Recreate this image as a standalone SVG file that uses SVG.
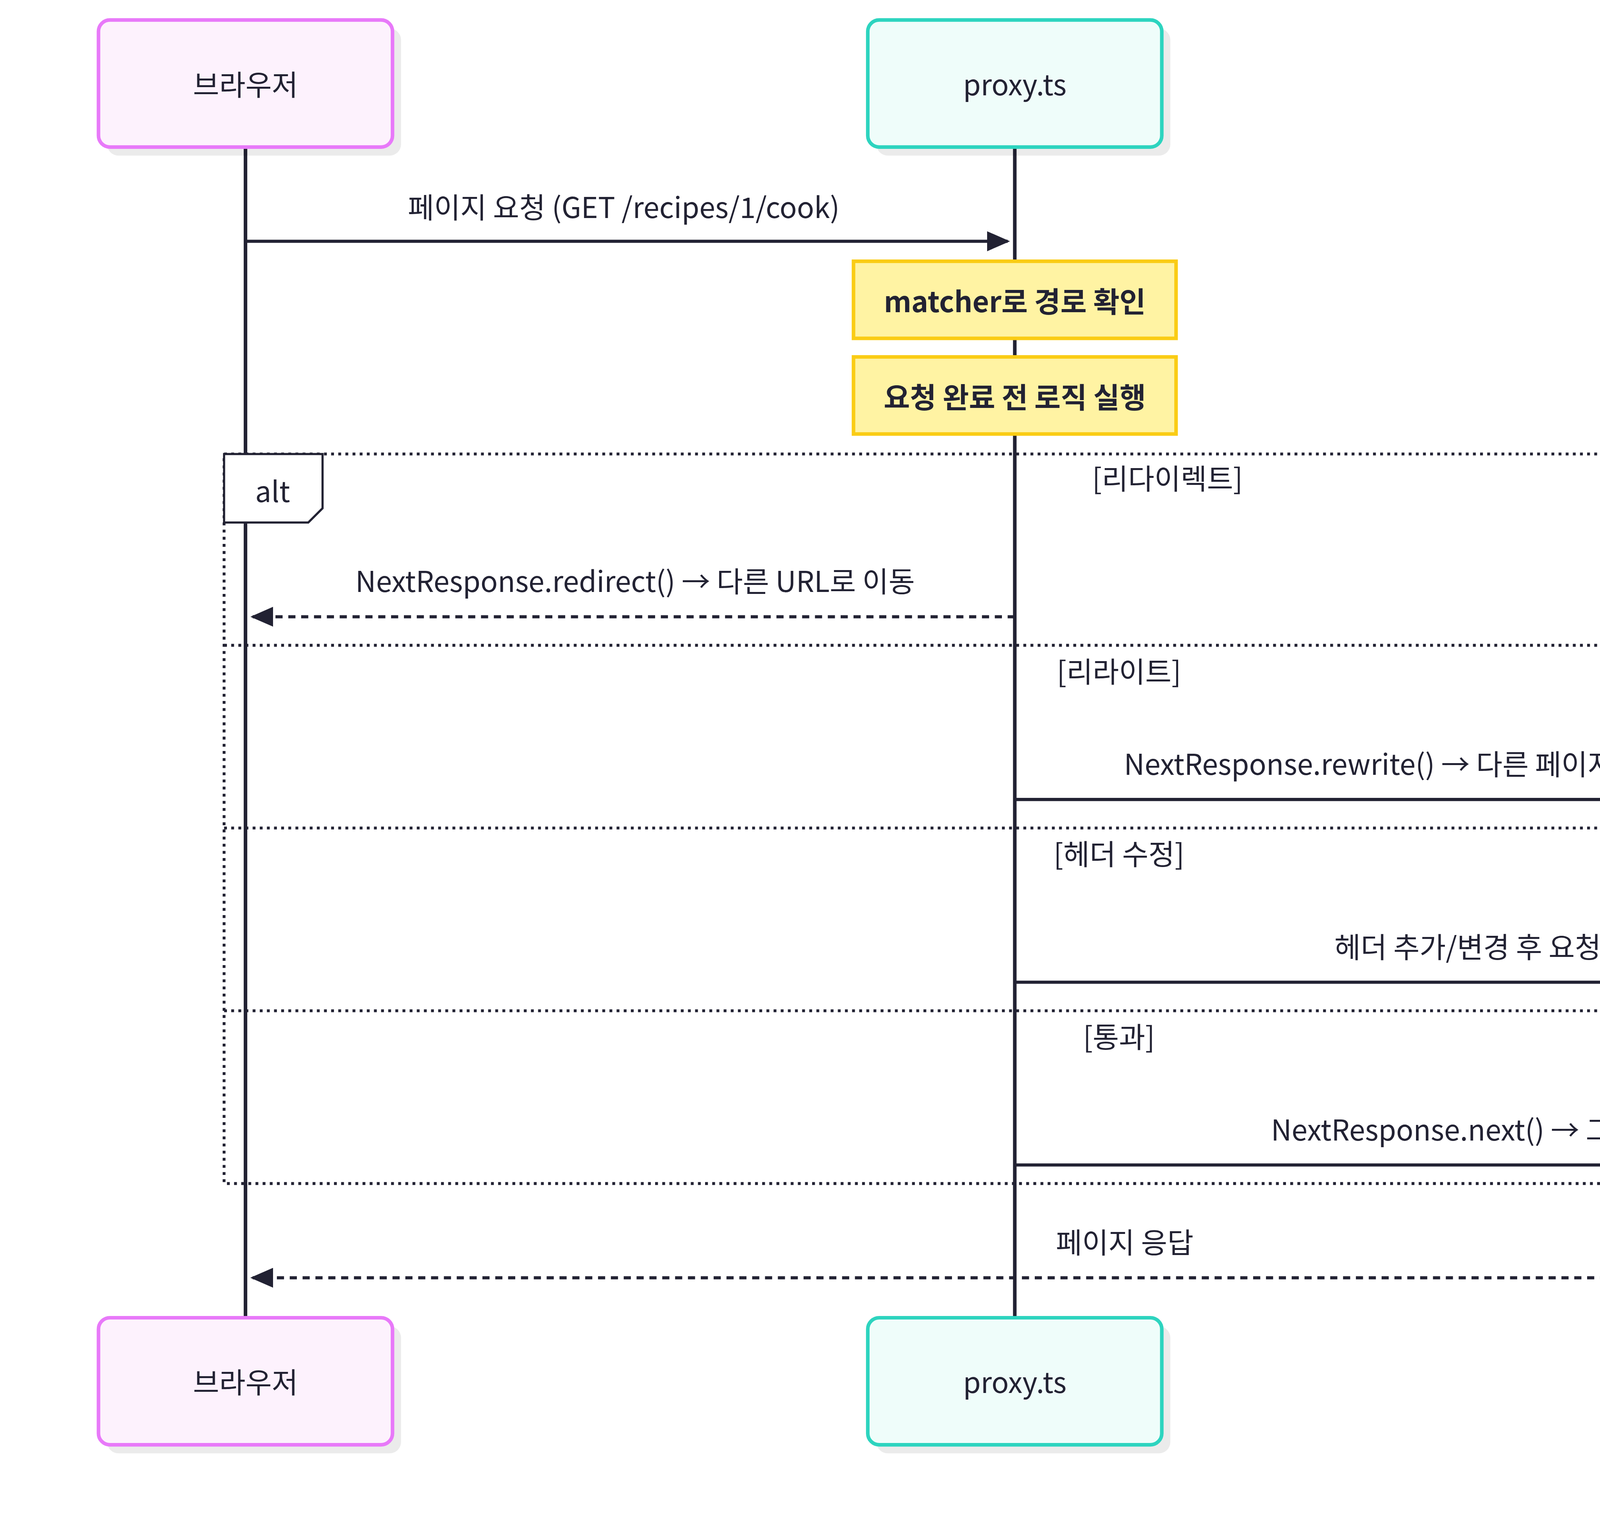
<svg xmlns="http://www.w3.org/2000/svg" width="5700" height="3885" viewBox="0 0 5700 3885">
<style>
text{font-family:"Noto Sans CJK KR","Noto Sans",sans-serif;font-size:20px;fill:#222233;text-anchor:middle;dominant-baseline:central}
.life{stroke:#222233;stroke-width:2.5}
.msg{stroke:#222233;stroke-width:2.2;fill:none}
.dash{stroke-dasharray:5 4}
.dot{stroke:#222233;stroke-width:2;stroke-dasharray:2 3;fill:none}
.shadow{fill:#000;opacity:0.08}
.note{fill:#fff3a3;stroke:#facc15;stroke-width:2.5}
.nt{font-weight:bold}
</style>
<defs>
<marker id="ah" viewBox="0 0 10 10" refX="9" refY="5" markerWidth="8" markerHeight="8" markerUnits="userSpaceOnUse" orient="auto"><path d="M0,0 L10,5 L0,10 z" fill="#222233"/></marker>
<marker id="a" viewBox="0 0 10 10" refX="9" refY="5" markerWidth="16" markerHeight="14" markerUnits="userSpaceOnUse" orient="auto" preserveAspectRatio="none"><path d="M0,0 L10,5 L0,10 z" fill="#222233"/></marker>
</defs>
<rect width="5700" height="3885" fill="#fff"/>
<g transform="scale(3.6538)">
<g id="lifelines">
<line class="life" x1="172" y1="103" x2="172" y2="923"/>
<line class="life" x1="711" y1="103" x2="711" y2="923"/>
<line class="life" x1="1396" y1="103" x2="1396" y2="923"/>
</g>
<g id="browser-top"><rect class="shadow" x="75" y="20" width="206" height="89" rx="8"/><rect x="69" y="14" width="206" height="89" rx="8" fill="#fdf2fd" stroke="#e879f9" stroke-width="2.5"/><text x="172" y="58">브라우저</text></g>
<g id="proxy-top"><rect class="shadow" x="614" y="20" width="206" height="89" rx="8"/><rect x="608" y="14" width="206" height="89" rx="8" fill="#effdfa" stroke="#2dd4bf" stroke-width="2.5"/><text x="711" y="58">proxy.ts</text></g>
<g id="next-top"><rect class="shadow" x="1299" y="20" width="206" height="89" rx="8"/><rect x="1293" y="14" width="206" height="89" rx="8" fill="#fff6ed" stroke="#fb923c" stroke-width="2.5"/><text x="1396" y="58">Next.js 서버</text></g>
<g id="browser-bottom"><rect class="shadow" x="75" y="929" width="206" height="89" rx="8"/><rect x="69" y="923" width="206" height="89" rx="8" fill="#fdf2fd" stroke="#e879f9" stroke-width="2.5"/><text x="172" y="967">브라우저</text></g>
<g id="proxy-bottom"><rect class="shadow" x="614" y="929" width="206" height="89" rx="8"/><rect x="608" y="923" width="206" height="89" rx="8" fill="#effdfa" stroke="#2dd4bf" stroke-width="2.5"/><text x="711" y="967">proxy.ts</text></g>
<g id="next-bottom"><rect class="shadow" x="1299" y="929" width="206" height="89" rx="8"/><rect x="1293" y="923" width="206" height="89" rx="8" fill="#fff6ed" stroke="#fb923c" stroke-width="2.5"/><text x="1396" y="967">Next.js 서버</text></g>
<g id="note1"><rect class="note" x="598" y="183" width="226" height="54"/><text class="nt" x="711" y="210">matcher로 경로 확인</text></g>
<g id="note2"><rect class="note" x="598" y="250" width="226" height="54"/><text class="nt" x="711" y="277">요청 완료 전 로직 실행</text></g>
<g id="alt">
<rect class="dot" x="157" y="318" width="1254" height="511"/>
<path d="M157,318 H226 V356 L216,366 H157 Z" fill="#fff" stroke="#222233" stroke-width="1.5"/>
<text x="191" y="343">alt</text>
<line class="dot" x1="157" y1="452" x2="1411" y2="452"/>
<line class="dot" x1="157" y1="580" x2="1411" y2="580"/>
<line class="dot" x1="157" y1="708" x2="1411" y2="708"/>
<text x="818" y="334">[리다이렉트]</text>
<text x="784" y="469">[리라이트]</text>
<text x="784" y="597">[헤더 수정]</text>
<text x="784" y="725">[통과]</text>
</g>
<g id="connectors">
<line class="msg" x1="172" y1="169" x2="706" y2="169" marker-end="url(#a)"/>
<text x="437" y="144">페이지 요청 (GET /recipes/1/cook)</text>
<line class="msg dash" x1="711" y1="432" x2="177" y2="432" marker-end="url(#a)"/>
<text x="445" y="406">NextResponse.redirect() → 다른 URL로 이동</text>
<line class="msg" x1="711" y1="560" x2="1391" y2="560" marker-end="url(#a)"/>
<text x="1049" y="534">NextResponse.rewrite() → 다른 페이지 내용 반환 (URL 유지)</text>
<line class="msg" x1="711" y1="688" x2="1391" y2="688" marker-end="url(#a)"/>
<text x="1049" y="662">헤더 추가/변경 후 요청 전달</text>
<line class="msg" x1="711" y1="816" x2="1391" y2="816" marker-end="url(#a)"/>
<text x="1049" y="790">NextResponse.next() → 그대로 통과</text>
<line class="msg dash" x1="1396" y1="895" x2="177" y2="895" marker-end="url(#a)"/>
<text x="788" y="869">페이지 응답</text>
</g>
</g>
</svg>
